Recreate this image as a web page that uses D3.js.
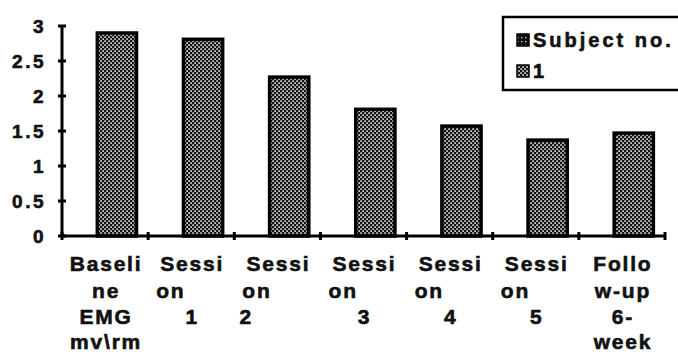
<!DOCTYPE html>
<html><head><meta charset="utf-8">
<script src="https://cdn.jsdelivr.net/npm/d3@7"></script>
<style>body{margin:0;background:#fff}svg{display:block}</style>
</head><body><svg id="c" width="678" height="355"></svg>
<script>
const categories = ["Baseline EMG mv\\rm","Session 1","Session 2","Session 3","Session 4","Session 5","Follow-up 6-week"];
const categoryLines = [["Baseli","ne","EMG","mv\\rm"],["Sessi","on","1"],["Sessi","on","2"],["Sessi","on","3"],["Sessi","on","4"],["Sessi","on","5"],["Follo","w-up","6-","week"]];
const values = [2.9, 2.81, 2.27, 1.81, 1.57, 1.37, 1.47];
const yTicks = [0, 0.5, 1, 1.5, 2, 2.5, 3];
const yTickLabels = ["0","0.5","1","1.5","2","2.5","3"];
const legendLabels = ["Subject no.","1"];

const FONT = "'Liberation Sans', Arial, Helvetica, sans-serif";
function styleText(sel, size, ls) {
  sel.style("font-family", FONT).style("font-weight","700").style("font-size", size+"px")
     .style("letter-spacing", ls+"px").style("fill","#111").style("stroke","#111").style("stroke-width","0.6px");
}

const svg = d3.select("#c");
const defs = svg.append("defs");
const pat = defs.append("pattern").attr("id","dots").attr("patternUnits","userSpaceOnUse").attr("width",4).attr("height",4);
pat.append("rect").attr("width",4).attr("height",4).attr("fill","#151515");
pat.append("rect").attr("x",0.3).attr("y",0.3).attr("width",1.6).attr("height",1.6).attr("fill","#eee");
pat.append("rect").attr("x",2.3).attr("y",2.3).attr("width",1.6).attr("height",1.6).attr("fill","#eee");
const pat2 = defs.append("pattern").attr("id","dots2").attr("patternUnits","userSpaceOnUse").attr("width",4).attr("height",4);
pat2.append("rect").attr("width",4).attr("height",4).attr("fill","#111");
pat2.append("rect").attr("x",1).attr("y",1).attr("width",1.3).attr("height",1.3).attr("fill","#ddd");

const x0 = 62, x1 = 665, yBase = 236, yTop = 26;
const x = d3.scaleBand().domain(categories).range([x0, x1]).padding(0);
const y = d3.scaleLinear().domain([0,3]).range([yBase, yTop]);
const bw = x.bandwidth();

// bars
svg.append("g").selectAll("rect").data(values).join("rect")
  .attr("x",(d,i)=>x(categories[i]) + bw*0.41)
  .attr("width", bw*0.455)
  .attr("y", d=>y(d))
  .attr("height", d=>y(0)-y(d))
  .attr("fill","url(#dots)").attr("stroke","#000").attr("stroke-width",3.5);

// y axis
const yAxis = d3.axisLeft(y).tickValues(yTicks).tickSize(0).tickFormat((d,i)=>yTickLabels[i]);
const gy = svg.append("g").attr("transform",`translate(${x0},0)`).call(yAxis);
gy.select(".domain").remove();
gy.selectAll("text").attr("x",-16).attr("dy","0.36em").call(styleText, 19, 2.5);
svg.append("line").attr("x1",x0).attr("x2",x0).attr("y1",yTop-1).attr("y2",yBase+1).attr("stroke","#000").attr("stroke-width",3);
svg.append("g").selectAll("line").data(yTicks).join("line")
  .attr("x1",x0-4).attr("x2",x0+4).attr("y1",d=>y(d)).attr("y2",d=>y(d)).attr("stroke","#000").attr("stroke-width",3);

// x axis
svg.append("line").attr("x1",x0).attr("x2",x1).attr("y1",yBase).attr("y2",yBase).attr("stroke","#000").attr("stroke-width",3);
const bounds = categories.map(c=>x(c)).concat([x1]);
svg.append("g").selectAll("line").data(bounds).join("line")
  .attr("x1",d=>d).attr("x2",d=>d).attr("y1",yBase-4).attr("y2",yBase+4).attr("stroke","#000").attr("stroke-width",3);

// x labels
const rowY = [263, 290, 316, 341];
categoryLines.forEach((lines,i)=>{
  const cx = x(categories[i]) + bw/2;
  lines.forEach((t,j)=>{
    let anchor = "middle", xx = cx + 1;
    if (t === "on") { anchor = "start"; xx = cx - 35; }
    if (i === 2 && j === 2) { xx = cx - 31; }
    svg.append("text").attr("x",xx).attr("y",rowY[j]).attr("dy","0.36em")
      .attr("text-anchor",anchor).call(styleText, 21, 1.8).text(t);
  });
});

// legend
svg.append("rect").attr("x",503).attr("y",17).attr("width",190).attr("height",73)
  .attr("fill","#fff").attr("stroke","#000").attr("stroke-width",2.5);
const legY = [40, 71];
legendLabels.forEach((t,i)=>{
  svg.append("rect").attr("x",517).attr("y",legY[i]-6).attr("width",12).attr("height",12)
    .attr("fill", i===0 ? "url(#dots2)" : "url(#dots)").attr("stroke","#000").attr("stroke-width",1.5);
  svg.append("text").attr("x",533).attr("y",legY[i]).attr("dy","0.36em")
    .call(styleText, 20, 3).text(t);
});
</script></body></html>
